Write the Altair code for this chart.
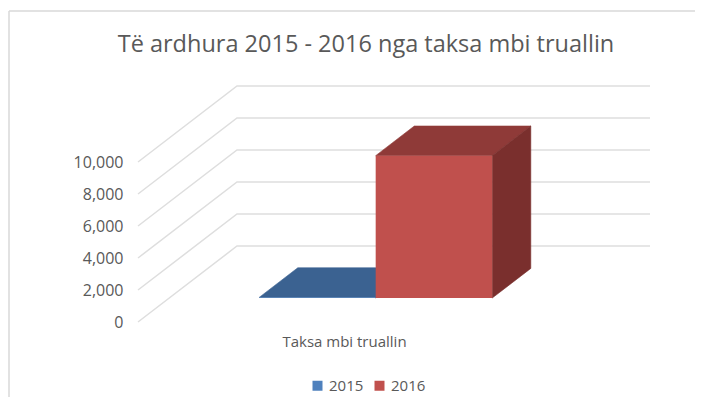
import altair as alt
import pandas as pd

# ---------------- data ----------------
title_text = ["Të ardhura 2015 - 2016 nga taksa mbi truallin"]
categories = ["Taksa mbi truallin"]
series = ["2015", "2016"]
values = [40, 8900]
y_ticks = [0, 2000, 4000, 6000, 8000, 10000]

front_colors = ["#4f81bd", "#c0504d"]
top_colors = ["#3b6291", "#8f3a38"]
side_colors = ["#345682", "#7a2f2d"]

# ---------------- layout (3-D oblique projection) ----------------
W, H = 512, 240
Y_MAX = 15000
FLOOR_W = 413          # width of the floor's front edge (x units)
DEPTH_X, DEPTH_Y = 99, 4750   # offset from front to back wall
BAR_FRONT, BAR_BACK = 0.315, 0.705
BAR_W = 116.5
FONT = "Open Sans"
TXT = "#595959"
GRID = "#dedede"

# gridlines: left wall diagonal + back wall horizontal
grid_rows = []
for t in y_ticks:
    grid_rows += [
        {"tick": t, "o": 0, "x": 0, "y": t},
        {"tick": t, "o": 1, "x": DEPTH_X, "y": t + DEPTH_Y},
        {"tick": t, "o": 2, "x": W, "y": t + DEPTH_Y},
    ]
grid_df = pd.DataFrame(grid_rows)

fx, fy = BAR_FRONT * DEPTH_X, BAR_FRONT * DEPTH_Y
bx, by = BAR_BACK * DEPTH_X, BAR_BACK * DEPTH_Y

front_rows, top_rows, side_rows = [], [], []
n = len(series)
for ci, cat in enumerate(categories):
    center = FLOOR_W / 2
    for i, (s, v) in enumerate(zip(series, values)):
        L = center - n * BAR_W / 2 + i * BAR_W
        R = L + BAR_W
        front_rows.append({"series": s, "x": L + fx, "x2": R + fx, "y": fy, "y2": fy + v})
        f = f"top{i}"
        top_rows += [
            {"face": f, "x": L + fx, "lo": fy + v, "hi": fy + v, "col": top_colors[i]},
            {"face": f, "x": L + bx, "lo": fy + v, "hi": by + v, "col": top_colors[i]},
            {"face": f, "x": R + fx, "lo": fy + v, "hi": by + v, "col": top_colors[i]},
            {"face": f, "x": R + bx, "lo": by + v, "hi": by + v, "col": top_colors[i]},
        ]
        f = f"side{i}"
        side_rows += [
            {"face": f, "x": R + fx, "lo": fy, "hi": fy + v, "col": side_colors[i]},
            {"face": f, "x": R + bx, "lo": by, "hi": by + v, "col": side_colors[i]},
        ]

front_df = pd.DataFrame(front_rows)
top_df = pd.DataFrame(top_rows)
side_df = pd.DataFrame(side_rows)
cat_df = pd.DataFrame({"cat": categories, "x": [FLOOR_W / 2 for _ in categories]})
title_df = pd.DataFrame({"t": title_text})

xs = alt.Scale(domain=[0, W], nice=False, zero=False)
ys = alt.Scale(domain=[0, Y_MAX], nice=False, zero=False)
y_axis = alt.Axis(values=y_ticks, format=",.0f", domain=False, ticks=False, grid=False,
                  labelPadding=15, labelFont=FONT, labelFontSize=16,
                  labelColor=TXT, title=None)

grid = alt.Chart(grid_df).mark_line(strokeWidth=1.5, color=GRID).encode(
    x=alt.X("x:Q", scale=xs, axis=None),
    y=alt.Y("y:Q", scale=ys, axis=y_axis),
    detail="tick:N",
    order="o:Q",
)

def face_layer(df):
    return alt.Chart(df).mark_area(interpolate="linear", strokeWidth=0.6).encode(
        x=alt.X("x:Q", scale=xs, axis=None),
        y=alt.Y("lo:Q", scale=ys, axis=y_axis),
        y2="hi:Q",
        detail="face:N",
        fill=alt.Fill("col:N", scale=None),
        stroke=alt.Stroke("col:N", scale=None),
    )

tops = face_layer(top_df)
sides = face_layer(side_df)

fronts = alt.Chart(front_df).mark_rect().encode(
    x=alt.X("x:Q", scale=xs, axis=None),
    x2="x2:Q",
    y=alt.Y("y:Q", scale=ys, axis=y_axis),
    y2="y2:Q",
    color=alt.Color("series:N", scale=alt.Scale(domain=series, range=front_colors),
                    legend=alt.Legend(orient="none", legendX=172, legendY=296,
                                      direction="horizontal", title=None,
                                      symbolType="square", symbolSize=100,
                                      symbolStrokeWidth=0, labelFont=FONT,
                                      labelFontSize=15, labelColor=TXT,
                                      columnPadding=8, padding=0)),
)

cat_text = alt.Chart(cat_df).mark_text(font=FONT, fontSize=15, color=TXT).encode(
    x=alt.X("x:Q", scale=xs, axis=None),
    y=alt.value(H + 20),
    text="cat:N",
)

title = alt.Chart(title_df).mark_text(font=FONT, fontSize=23.5, color=TXT,
                                      align="center", baseline="alphabetic").encode(
    x=alt.value(228), y=alt.value(-30), text="t:N")

border_left = alt.Chart(pd.DataFrame({"a": [0]})).mark_rule(color="#d9d9d9", strokeWidth=1.5).encode(
    x=alt.value(-129), y=alt.value(-71), y2=alt.value(H + 90))
border_top = alt.Chart(pd.DataFrame({"a": [0]})).mark_rule(color="#d9d9d9", strokeWidth=1.5).encode(
    x=alt.value(-129), x2=alt.value(W + 70), y=alt.value(-71))

chart = alt.layer(border_left, border_top, title, grid, tops, sides, fronts, cat_text).properties(
    width=W, height=H,
    autosize=alt.AutoSizeParams(type="none"),
    padding={"left": 130, "top": 74, "right": 45, "bottom": 75},
).configure(background="white", view=alt.ViewConfig(strokeWidth=0))

chart.save("out.html", embed_options={"renderer": "svg", "actions": False})
